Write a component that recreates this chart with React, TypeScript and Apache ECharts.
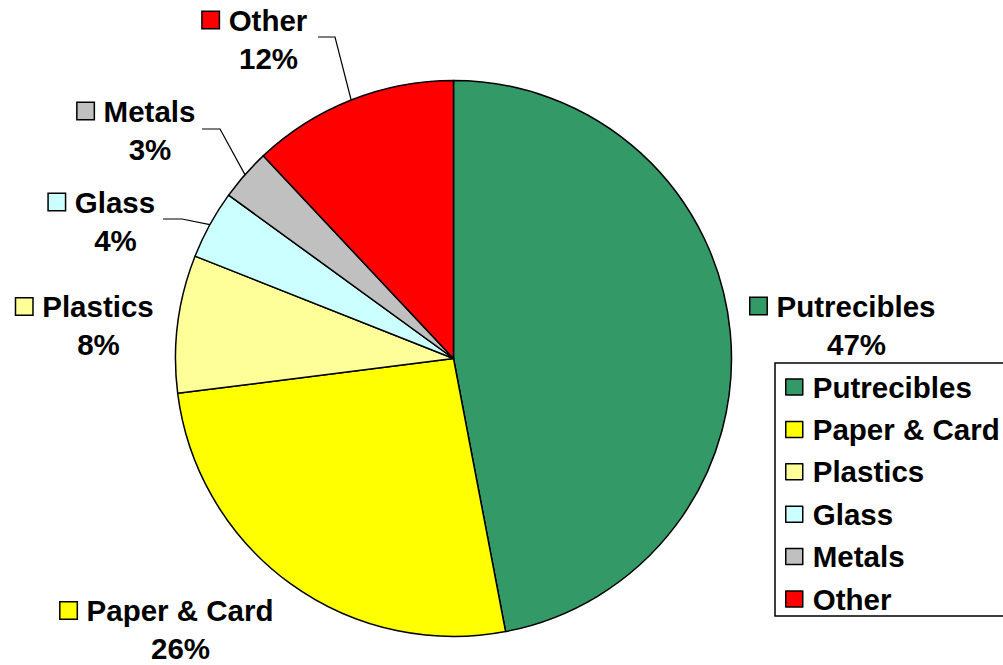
import React, { useEffect, useRef } from "react";
import * as echarts from "echarts";

const categories = ["Putrecibles", "Paper & Card", "Plastics", "Glass", "Metals", "Other"];
const values = [47, 26, 8, 4, 3, 12];
const colors = ["#339966", "#FFFF00", "#FFFF99", "#CCFFFF", "#C0C0C0", "#FF0000"];

// label layout (positions of label blocks, not data)
const labelCenters: number[][] = [
  [856.5, 319],
  [180.5, 623.5],
  [98.5, 319.5],
  [115.5, 215],
  [150, 124],
  [268.5, 33],
];
const leaderBends: (number[][] | null)[] = [
  null,
  null,
  null,
  [[182, 219], [163, 219]],
  [[220, 129], [202, 129]],
  [[335, 37], [318, 37]],
];

const FONT = '"Liberation Sans", Arial, Helvetica, sans-serif';
const FS = 29.5;

export default function App() {
  const ref = useRef<HTMLDivElement>(null);
  useEffect(() => {
    if (!ref.current) return;
    const chart = echarts.init(ref.current, undefined, { renderer: "svg" });
    const rich: any = {
      g: { width: 10 },
      s: { width: 17 },
      n: { fontSize: FS, fontWeight: "bold", fontFamily: FONT, color: "#000", lineHeight: 50 },
      p: { fontSize: FS, fontWeight: "bold", fontFamily: FONT, color: "#000", lineHeight: 26 },
    };
    colors.forEach((c, i) => {
      rich["m" + i] = {
        width: 16,
        height: 16,
        backgroundColor: c,
        borderColor: "#000",
        borderWidth: 1.5,
      };
    });
    chart.setOption({
      animation: false,
      backgroundColor: "#fff",
      color: colors,
      legend: {
        orient: "vertical",
        left: 775,
        top: 363,
        data: categories,
        icon: "rect",
        itemWidth: 17,
        itemHeight: 16,
        itemGap: 12.4,
        borderColor: "#000",
        borderWidth: 1.5,
        padding: [9, 40, 2, 10],
        itemStyle: { borderColor: "#000", borderWidth: 1.5 },
        textStyle: {
          fontSize: FS,
          fontWeight: "bold",
          fontFamily: FONT,
          color: "#000",
          lineHeight: 30,
          padding: [0, 0, 0, 5],
        },
      },
      series: [
        {
          type: "pie",
          center: [453.5, 358.5],
          radius: 278,
          startAngle: 90,
          clockwise: true,
          avoidLabelOverlap: false,
          itemStyle: { borderColor: "#000", borderWidth: 1.5 },
          emphasis: { disabled: true },
          label: {
            show: true,
            position: "outside",
            align: "center",
            rich,
            formatter: (p: any) =>
              `{m${p.dataIndex}|}{g|}{n|${p.name}}{g|}{s|}\n{p|${Math.round(p.percent)}%}`,
          },
          labelLine: { show: true, length: 10, length2: 10, lineStyle: { color: "#000", width: 1.2 } },
          labelLayout: (params: any) => {
            const i = params.dataIndex;
            const [x, y] = labelCenters[i];
            const res: any = { x, y, align: "center", verticalAlign: "middle" };
            const bends = leaderBends[i];
            if (bends && params.labelLinePoints) {
              res.labelLinePoints = [params.labelLinePoints[0], ...bends];
            }
            return res;
          },
          data: categories.map((name, i) => ({
            name,
            value: values[i],
            labelLine: { show: leaderBends[i] !== null },
          })),
        },
      ],
    });
    return () => chart.dispose();
  }, []);
  return (
    <div
      ref={ref}
      style={{ position: "fixed", left: 0, top: 0, width: 1003, height: 665 }}
    />
  );
}
